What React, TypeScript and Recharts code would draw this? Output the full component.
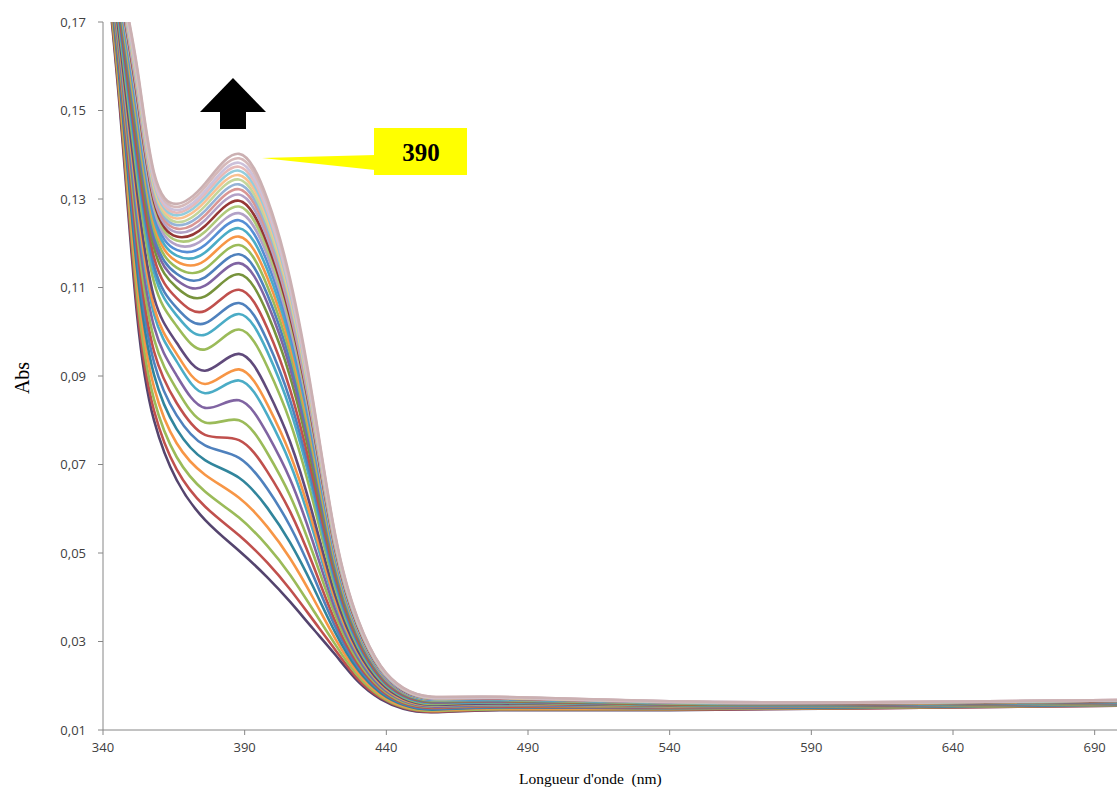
import React from 'react';
import { LineChart, Line, XAxis, YAxis } from 'recharts';

// Wavelengths (nm) at which each spectrum is sampled
const wavelengths = [340, 346, 352, 358, 366, 376, 388, 398, 406, 414, 422, 430, 438, 446, 456, 480, 540, 620, 700];

// Absorbance spectra, from the lowest (first) to the highest (last)
const s00 = [0.190, 0.150, 0.104, 0.080, 0.0665, 0.0575, 0.0505, 0.0445, 0.039, 0.033, 0.027, 0.021, 0.017, 0.0148, 0.014, 0.0145, 0.0145, 0.015, 0.0155];
const s01 = [0.1906, 0.1512, 0.1062, 0.0822, 0.0689, 0.0605, 0.054, 0.0478, 0.0418, 0.035, 0.0281, 0.0215, 0.0173, 0.015, 0.0141, 0.0146, 0.0146, 0.015, 0.0155];
const s02 = [0.1913, 0.1526, 0.1087, 0.0847, 0.0717, 0.0639, 0.058, 0.0516, 0.0451, 0.0373, 0.0293, 0.0222, 0.0176, 0.0152, 0.0143, 0.0147, 0.0147, 0.0151, 0.0156];
const s03 = [0.192, 0.1541, 0.1115, 0.0875, 0.0748, 0.0677, 0.0625, 0.0559, 0.0488, 0.040, 0.0306, 0.0229, 0.018, 0.0154, 0.0145, 0.0149, 0.0148, 0.0152, 0.0157];
const s04 = [0.1928, 0.1557, 0.1143, 0.0903, 0.078, 0.071, 0.067, 0.0602, 0.0524, 0.0426, 0.032, 0.0236, 0.0184, 0.0157, 0.0146, 0.0151, 0.0149, 0.0152, 0.0157];
const s05 = [0.1935, 0.1573, 0.1171, 0.0931, 0.0811, 0.0743, 0.0715, 0.0645, 0.0561, 0.0452, 0.0333, 0.0243, 0.0188, 0.0159, 0.0148, 0.0152, 0.015, 0.0153, 0.0158];
const s06 = [0.1942, 0.1586, 0.1196, 0.0956, 0.0839, 0.0767, 0.0755, 0.0684, 0.0594, 0.0475, 0.0345, 0.0249, 0.0191, 0.0161, 0.015, 0.0153, 0.0151, 0.0154, 0.0159];
const s07 = [0.1949, 0.1602, 0.1224, 0.0984, 0.087, 0.0795, 0.080, 0.0726, 0.063, 0.0501, 0.0359, 0.0256, 0.0195, 0.0163, 0.0152, 0.0155, 0.0152, 0.0154, 0.0159];
const s08 = [0.1957, 0.1617, 0.1252, 0.1012, 0.0901, 0.0828, 0.0845, 0.0769, 0.0667, 0.0527, 0.0372, 0.0263, 0.0198, 0.0166, 0.0153, 0.0156, 0.0153, 0.0155, 0.016];
const s09 = [0.1964, 0.1633, 0.128, 0.104, 0.0933, 0.0861, 0.089, 0.0812, 0.0703, 0.0553, 0.0386, 0.027, 0.0202, 0.0168, 0.0155, 0.0158, 0.0154, 0.0156, 0.0161];
const s10 = [0.1969, 0.1642, 0.1296, 0.1056, 0.095, 0.0882, 0.0915, 0.0836, 0.0724, 0.0568, 0.0393, 0.0274, 0.0204, 0.0169, 0.0156, 0.0159, 0.0154, 0.0156, 0.0161];
const s11 = [0.1974, 0.1654, 0.1318, 0.1078, 0.0975, 0.0912, 0.095, 0.0869, 0.0752, 0.0588, 0.0404, 0.0279, 0.0207, 0.0171, 0.0157, 0.016, 0.0155, 0.0156, 0.0161];
const s12 = [0.1984, 0.1673, 0.1352, 0.1112, 0.1013, 0.096, 0.1005, 0.0921, 0.0797, 0.062, 0.042, 0.0288, 0.0212, 0.0174, 0.0159, 0.0162, 0.0156, 0.0157, 0.0162];
const s13 = [0.1989, 0.1685, 0.1374, 0.1134, 0.1037, 0.0993, 0.104, 0.0955, 0.0825, 0.064, 0.0431, 0.0293, 0.0215, 0.0176, 0.0161, 0.0163, 0.0157, 0.0158, 0.0163];
const s14 = [0.1994, 0.1693, 0.1389, 0.1149, 0.1054, 0.1019, 0.1065, 0.0979, 0.0846, 0.0654, 0.0438, 0.0297, 0.0217, 0.0177, 0.0162, 0.0164, 0.0157, 0.0158, 0.0163];
const s15 = [0.1999, 0.1704, 0.1408, 0.1168, 0.1076, 0.1047, 0.1095, 0.1008, 0.087, 0.0672, 0.0448, 0.0302, 0.0219, 0.0179, 0.0163, 0.0165, 0.0158, 0.0159, 0.0164];
const s16 = [0.2005, 0.1716, 0.143, 0.119, 0.11, 0.108, 0.113, 0.1041, 0.0899, 0.0692, 0.0458, 0.0308, 0.0222, 0.0181, 0.0164, 0.0166, 0.0159, 0.0159, 0.0164];
const s17 = [0.2009, 0.1725, 0.1446, 0.1206, 0.1117, 0.1104, 0.1155, 0.1065, 0.0919, 0.0707, 0.0466, 0.0312, 0.0224, 0.0182, 0.0165, 0.0167, 0.016, 0.0159, 0.0164];
const s18 = [0.2012, 0.1732, 0.1458, 0.1218, 0.1131, 0.1123, 0.1175, 0.1084, 0.0935, 0.0718, 0.0472, 0.0315, 0.0226, 0.0183, 0.0166, 0.0167, 0.016, 0.016, 0.0165];
const s19 = [0.2016, 0.1739, 0.1471, 0.1231, 0.1145, 0.1142, 0.1196, 0.1103, 0.0952, 0.073, 0.0478, 0.0318, 0.0228, 0.0184, 0.0167, 0.0168, 0.016, 0.016, 0.0165];
const s20 = [0.2019, 0.1746, 0.1484, 0.1244, 0.1159, 0.1161, 0.1215, 0.1122, 0.0968, 0.0742, 0.0484, 0.0321, 0.0229, 0.0185, 0.0168, 0.0169, 0.0161, 0.016, 0.0165];
const s21 = [0.2022, 0.1752, 0.1495, 0.1255, 0.1172, 0.1179, 0.1234, 0.114, 0.0983, 0.0753, 0.049, 0.0324, 0.0231, 0.0186, 0.0168, 0.0169, 0.0161, 0.0161, 0.0166];
const s22 = [0.2025, 0.1758, 0.1506, 0.1266, 0.1185, 0.1196, 0.1252, 0.1157, 0.0998, 0.0763, 0.0495, 0.0327, 0.0232, 0.0187, 0.0169, 0.017, 0.0162, 0.0161, 0.0166];
const s23 = [0.2028, 0.1764, 0.1517, 0.1277, 0.1196, 0.1212, 0.1268, 0.1173, 0.1011, 0.0773, 0.05, 0.0329, 0.0234, 0.0188, 0.017, 0.0171, 0.0162, 0.0161, 0.0166];
const s24 = [0.203, 0.1769, 0.1526, 0.1286, 0.1206, 0.1226, 0.1283, 0.1186, 0.1023, 0.0781, 0.0504, 0.0331, 0.0235, 0.0189, 0.017, 0.0171, 0.0162, 0.0161, 0.0166];
const s25 = [0.2032, 0.1773, 0.1534, 0.1294, 0.1215, 0.1239, 0.1296, 0.1199, 0.1034, 0.0789, 0.0508, 0.0333, 0.0236, 0.0189, 0.0171, 0.0171, 0.0163, 0.0161, 0.0166];
const s26 = [0.2035, 0.1778, 0.1542, 0.1302, 0.1225, 0.1252, 0.131, 0.1212, 0.1045, 0.0796, 0.0512, 0.0336, 0.0237, 0.019, 0.0171, 0.0172, 0.0163, 0.0162, 0.0167];
const s27 = [0.2037, 0.1782, 0.155, 0.131, 0.1233, 0.1263, 0.1322, 0.1224, 0.1055, 0.0804, 0.0516, 0.0338, 0.0238, 0.0191, 0.0172, 0.0172, 0.0163, 0.0162, 0.0167];
const s28 = [0.2038, 0.1786, 0.1557, 0.1317, 0.1241, 0.1273, 0.1333, 0.1234, 0.1064, 0.081, 0.0519, 0.0339, 0.0239, 0.0191, 0.0172, 0.0173, 0.0163, 0.0162, 0.0167];
const s29 = [0.204, 0.179, 0.1564, 0.1324, 0.1248, 0.1284, 0.1344, 0.1244, 0.1073, 0.0816, 0.0522, 0.0341, 0.024, 0.0192, 0.0173, 0.0173, 0.0164, 0.0162, 0.0167];
const s30 = [0.2042, 0.1794, 0.157, 0.133, 0.1256, 0.1294, 0.1354, 0.1255, 0.1081, 0.0822, 0.0526, 0.0343, 0.0241, 0.0193, 0.0173, 0.0173, 0.0164, 0.0162, 0.0167];
const s31 = [0.2044, 0.1797, 0.1576, 0.1336, 0.1263, 0.1303, 0.1364, 0.1264, 0.1089, 0.0828, 0.0529, 0.0344, 0.0242, 0.0193, 0.0174, 0.0174, 0.0164, 0.0162, 0.0167];
const s32 = [0.2045, 0.18, 0.1582, 0.1342, 0.1269, 0.1311, 0.1373, 0.1273, 0.1097, 0.0833, 0.0531, 0.0346, 0.0243, 0.0193, 0.0174, 0.0174, 0.0164, 0.0163, 0.0168];
const s33 = [0.2047, 0.1803, 0.1588, 0.1348, 0.1275, 0.1318, 0.1382, 0.1281, 0.1104, 0.0839, 0.0534, 0.0347, 0.0243, 0.0194, 0.0174, 0.0174, 0.0165, 0.0163, 0.0168];
const s34 = [0.2048, 0.1807, 0.1594, 0.1354, 0.1282, 0.1327, 0.1392, 0.1291, 0.1112, 0.0844, 0.0537, 0.0348, 0.0244, 0.0194, 0.0175, 0.0175, 0.0165, 0.0163, 0.0168];
const s35 = [0.205, 0.181, 0.160, 0.136, 0.1289, 0.1335, 0.1402, 0.130, 0.112, 0.085, 0.054, 0.035, 0.0245, 0.0195, 0.0175, 0.0175, 0.0165, 0.0163, 0.0168];

const spectra = [s00, s01, s02, s03, s04, s05, s06, s07, s08, s09, s10, s11, s12, s13, s14, s15, s16, s17,
  s18, s19, s20, s21, s22, s23, s24, s25, s26, s27, s28, s29, s30, s31, s32, s33, s34, s35];

const xTicks = [340, 390, 440, 490, 540, 590, 640, 690];
const yTicks = [0.01, 0.03, 0.05, 0.07, 0.09, 0.11, 0.13, 0.15, 0.17];
const peakLabel = '390';

// styles
const colors = [
  '#54446E', '#C0504D', '#9BBB59', '#F79646', '#31859C', '#4F81BD',
  '#C0504D', '#9BBB59', '#8064A2', '#4BACC6', '#F79646', '#604A7B',
  '#9BBB59', '#4BACC6', '#4F81BD', '#C0504D', '#77933C', '#8064A2',
  '#4F81BD', '#9BBB59', '#F79646', '#4BACC6', '#558ED5', '#B3A2C7',
  '#AFC97A', '#953735', '#B3A2C7', '#D99694', '#95B3D7', '#C3D69B',
  '#FAC090', '#93CDDD', '#E6B9B8', '#CCC1DA', '#D6B9BA', '#CBB0B2',
];

const rows = wavelengths.map((wl, i) => {
  const r: Record<string, number> = { wl };
  spectra.forEach((s, k) => { r['s' + k] = s[i]; });
  return r;
});

const tickStyle = { fontSize: 13, fill: '#404040', fontFamily: 'Open Sans, sans-serif' };

export default function App() {
  return (
    <div style={{ position: 'absolute', left: 0, top: 0, width: 1117, height: 787, overflow: 'hidden', background: '#fff' }}>
      <LineChart width={1123} height={787} data={rows} margin={{ top: 22, right: 0, left: 33, bottom: 27 }}>
        <XAxis
          dataKey="wl"
          type="number"
          domain={[340, 700]}
          ticks={xTicks}
          allowDataOverflow
          height={30}
          tickSize={5}
          tickMargin={8}
          tick={tickStyle}
          tickLine={{ stroke: '#868686' }}
          axisLine={{ stroke: '#868686' }}
        />
        <YAxis
          type="number"
          domain={[0.01, 0.17]}
          ticks={yTicks}
          allowDataOverflow
          width={70}
          tickSize={5}
          tickMargin={12}
          tick={tickStyle}
          tickLine={{ stroke: '#868686' }}
          axisLine={{ stroke: '#868686' }}
          tickFormatter={(v: number) => v.toFixed(2).replace('.', ',')}
        />
        {spectra.map((_, k) => (
          <Line
            key={k}
            dataKey={'s' + k}
            type="natural"
            stroke={colors[k]}
            strokeWidth={2.6}
            dot={false}
            activeDot={false}
            isAnimationActive={false}
          />
        ))}
      </LineChart>

      <svg width={1117} height={787} style={{ position: 'absolute', left: 0, top: 0, pointerEvents: 'none' }}>
        <polygon points="200,112 266,112 233,78" fill="#000" />
        <rect x={220} y={111} width={26} height={18} fill="#000" />
        <polygon points="262,158 375,155 375,170" fill="#FFFF00" />
        <rect x={374} y={128} width={93} height={47} fill="#FFFF00" />
        <text x={421} y={161} textAnchor="middle" fontFamily="Liberation Serif, serif" fontWeight="bold" fontSize={25} fill="#000">{peakLabel}</text>
      </svg>

      <div style={{ position: 'absolute', left: 22, top: 378, transform: 'translate(-50%, -50%) rotate(-90deg)', fontFamily: 'Liberation Serif, serif', fontSize: 20, color: '#000', whiteSpace: 'nowrap' }}>
        Abs
      </div>
      <div style={{ position: 'absolute', left: 519, top: 770, fontFamily: 'Liberation Serif, serif', fontSize: 15.5, color: '#000', whiteSpace: 'pre' }}>
        {"Longueur d'onde  (nm)"}
      </div>
    </div>
  );
}
